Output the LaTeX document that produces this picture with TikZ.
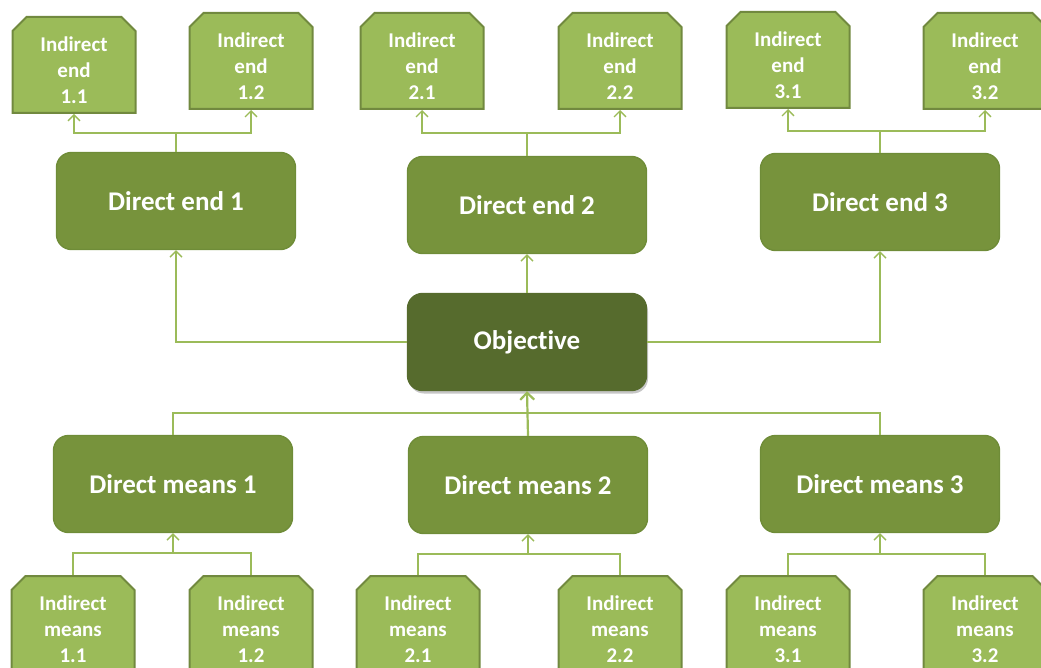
\documentclass[tikz,border=0pt]{standalone}
\usepackage{fontspec}
\setmainfont{Carlito}[Ligatures=NoCommon]
\usetikzlibrary{shapes.misc,arrows.meta,shadows}
\definecolor{leaf}{HTML}{9BBB59}
\definecolor{leafline}{HTML}{71893F}
\definecolor{moss}{HTML}{77933C}
\definecolor{mossline}{HTML}{6F8C38}
\definecolor{olive}{HTML}{566B2D}
\tikzset{
  indirect/.style={chamfered rectangle, chamfered rectangle corners={north west,north east},
    chamfered rectangle xsep=7pt, chamfered rectangle ysep=7pt,
    draw=leafline, line width=2pt, fill=leaf, minimum width=123pt, minimum height=96pt,
    inner sep=0pt, text height=78pt, text=white, align=center, font=\bfseries\fontsize{21}{26}\selectfont},
  direct/.style={draw=mossline, line width=1.4pt, fill=moss, rounded corners=15pt,
    minimum width=239pt, minimum height=97pt, text=white, font=\bfseries\fontsize{27}{30}\selectfont},
  wire/.style={draw=leaf, line width=1.3pt},
  link/.style={wire, -{Straight Barb[length=6pt,width=12pt]}}
}
\begin{document}
\begin{tikzpicture}[x=1pt, y=-1pt]
        \useasboundingbox (0,0) rectangle (1041,668);
        \clip (0,0) rectangle (1041,668);

        % Indirect ends
        \node[indirect] (ie11) at (74,65) {Indirect\\end\\1.1};
        \node[indirect] (ie12) at (251,61) {Indirect\\end\\1.2};
        \node[indirect] (ie21) at (422,61) {Indirect\\end\\2.1};
        \node[indirect] (ie22) at (620,61) {Indirect\\end\\2.2};
        \node[indirect] (ie31) at (788,60) {Indirect\\end\\3.1};
        \node[indirect] (ie32) at (985,61) {Indirect\\end\\3.2};

        % Direct ends
        \node[direct] (de1) at (176,201) {Direct end 1};
        \node[direct] (de2) at (527,205) {Direct end 2};
        \node[direct] (de3) at (880,202) {Direct end 3};

        % Objective
        \node[direct, draw=olive, fill=olive, drop shadow={opacity=0.45, shadow xshift=1.5pt, shadow yshift=-3pt}] (obj) at (527,342) {Objective};

        % Direct means
        \node[direct] (dm1) at (173,484) {Direct means 1};
        \node[direct] (dm2) at (528,485) {Direct means 2};
        \node[direct] (dm3) at (880,484) {Direct means 3};

        % Indirect means
        \node[indirect] (im11) at (73,624) {Indirect\\means\\1.1};
        \node[indirect] (im12) at (251,624) {Indirect\\means\\1.2};
        \node[indirect] (im21) at (418,624) {Indirect\\means\\2.1};
        \node[indirect] (im22) at (620,624) {Indirect\\means\\2.2};
        \node[indirect] (im31) at (788,624) {Indirect\\means\\3.1};
        \node[indirect] (im32) at (985,624) {Indirect\\means\\3.2};

        % Fork points
        \coordinate (e1) at (176,133);
        \coordinate (e2) at (527,133);
        \coordinate (e3) at (880,131);
        \coordinate (hub) at (528,413);
        \coordinate (m1) at (173,553);
        \coordinate (m2) at (528,554);
        \coordinate (m3) at (880,554);

        % Ends
        \draw[link] (de1.north) -- (e1) -| (ie11.south);
        \draw[link] (e1) -| (ie12.south);
        \draw[link] (de2.north) -- (e2) -| (ie21.south);
        \draw[link] (e2) -| (ie22.south);
        \draw[link] (de3.north) -- (e3) -| (ie31.south);
        \draw[link] (e3) -| (ie32.south);

        % Objective to ends
        \draw[link] (obj.west) -| (de1.south);
        \draw[link] (obj.north) -- (de2.south);
        \draw[link] (obj.east) -| (de3.south);

        % Means to objective
        \draw[wire] (dm1.north) |- (hub) -| (dm3.north);
        \draw[wire, line width=2.2pt, -{Straight Barb[length=7pt,width=14pt]}] (dm2.north) -- (obj.south);

        % Indirect means
        \draw[wire] (im11.north) |- (m1) -| (im12.north);
        \draw[link] (m1) -- (dm1.south);
        \draw[wire] (im21.north) |- (m2) -| (im22.north);
        \draw[link] (m2) -- (dm2.south);
        \draw[wire] (im31.north) |- (m3) -| (im32.north);
        \draw[link] (m3) -- (dm3.south);
    \end{tikzpicture}
\end{document}
